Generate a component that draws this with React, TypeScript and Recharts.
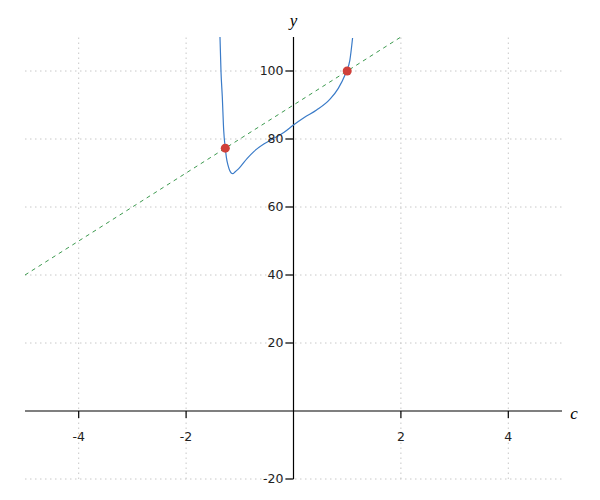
import { ComposedChart, Line, Scatter, XAxis, YAxis, ReferenceLine, ReferenceDot } from "recharts"

// blue curve
const curveC = [-1.369, -1.35, -1.326, -1.3, -1.27, -1.25, -1.22, -1.19, -1.16, -1.13, -1.09, -1.04, -0.987, -0.862, -0.739, -0.553, -0.367, -0.181, 0, 0.2, 0.43, 0.68, 0.834, 0.959, 0.983, 1.05, 1.1]
const curveY = [110, 99.8, 92.4, 82.6, 77.3, 74.6, 72.3, 70.8, 70.0, 69.8, 70.3, 71.0, 71.9, 74.3, 76.3, 78.5, 80.2, 81.9, 84.1, 86.3, 88.5, 91.7, 94.9, 98.8, 99.8, 103.2, 109.7]

// green dashed line
const lineC = [-5, 2]
const lineY = [40, 110]

// red intersection points
const hitC = [-1.27, 1]
const hitY = [77.3, 100]

const xTicks = [-4, -2, 2, 4]
const yTicks = [-20, 20, 40, 60, 80, 100]
const gridX = [-4, -2, 2, 4]
const gridY = [-20, 20, 40, 60, 80, 100]

const curve = curveC.map((c, i) => ({ c, y: curveY[i] }))
const line = lineC.map((c, i) => ({ c, y: lineY[i] }))
const hits = hitC.map((c, i) => ({ c, y: hitY[i] }))

const font = "'DejaVu Sans', sans-serif"

const xTick = (label: number) => (p: any) => (
  <g>
    <line x1={p.cx} y1={p.cy} x2={p.cx} y2={p.cy + 7} stroke="#000" strokeWidth={1.2} />
    <text x={p.cx} y={p.cy + 26} dy="0.35em" textAnchor="middle" fontSize={12.5} fontFamily={font} fill="#222">
      {label}
    </text>
  </g>
)

const yTick = (label: number) => (p: any) => (
  <g>
    <line x1={p.cx - 8} y1={p.cy} x2={p.cx} y2={p.cy} stroke="#000" strokeWidth={1.2} />
    <text x={p.cx - 10} y={p.cy} dy="0.35em" textAnchor="end" fontSize={12.5} fontFamily={font} fill="#222">
      {label}
    </text>
  </g>
)

const axisTitle = (label: string, dx: number, dy: number) => (p: any) => (
  <text x={p.cx + dx} y={p.cy + dy} textAnchor="middle" fontSize={17} fontStyle="italic" fontFamily="'Liberation Serif', serif" fill="#000">
    {label}
  </text>
)

export default function App() {
  return (
    <div style={{ position: "absolute", left: 0, top: 0 }}>
      <ComposedChart width={600} height={500} margin={{ top: 37, right: 38, bottom: 21, left: 25 }}>
        <XAxis dataKey="c" type="number" domain={[-5, 5]} hide allowDataOverflow />
        <YAxis dataKey="y" type="number" domain={[-20, 110]} hide allowDataOverflow />
        {gridX.map((v) => (
          <ReferenceLine key={"gx" + v} x={v} stroke="#c8c8c8" strokeDasharray="1.5 3.5" />
        ))}
        {gridY.map((v) => (
          <ReferenceLine key={"gy" + v} y={v} stroke="#c8c8c8" strokeDasharray="1.5 3.5" />
        ))}
        <ReferenceLine y={0} stroke="#000" strokeWidth={1.2} />
        <ReferenceLine x={0} stroke="#000" strokeWidth={1.2} />
        {xTicks.map((v) => (
          <ReferenceDot key={"xt" + v} x={v} y={0} r={0} shape={xTick(v)} />
        ))}
        {yTicks.map((v) => (
          <ReferenceDot key={"yt" + v} x={0} y={v} r={0} shape={yTick(v)} />
        ))}
        <ReferenceDot x={5} y={0} r={0} shape={axisTitle("c", 12, 8)} />
        <ReferenceDot x={0} y={110} r={0} shape={axisTitle("y", 0, -11)} />
        <Line data={line} dataKey="y" type="linear" stroke="#3d9a4f" strokeWidth={1} strokeDasharray="4 4" dot={false} isAnimationActive={false} />
        <Line data={curve} dataKey="y" type="monotone" stroke="#3a7bc8" strokeWidth={1.2} dot={false} isAnimationActive={false} />
        <Scatter data={hits} dataKey="y" fill="#d0403a" shape="circle" isAnimationActive={false} />
      </ComposedChart>
    </div>
  )
}
